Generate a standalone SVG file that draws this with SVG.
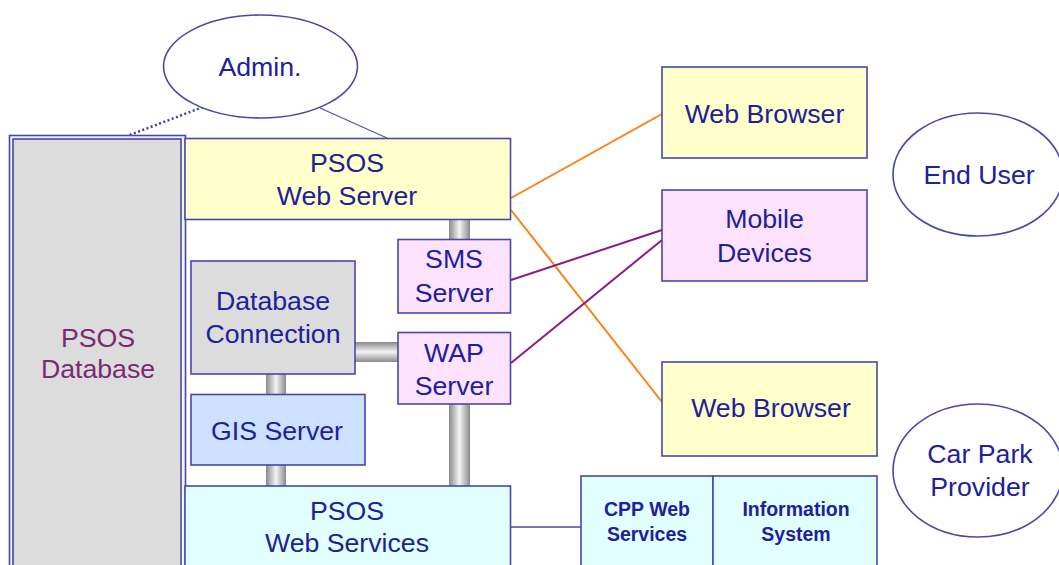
<svg xmlns="http://www.w3.org/2000/svg" width="1059" height="565" viewBox="0 0 1059 565">
<defs>
<linearGradient id="gv" x1="0" y1="0" x2="1" y2="0">
<stop offset="0" stop-color="#8a8a8a"/><stop offset="0.5" stop-color="#f4f4f4"/><stop offset="1" stop-color="#8a8a8a"/>
</linearGradient>
<linearGradient id="gh" x1="0" y1="0" x2="0" y2="1">
<stop offset="0" stop-color="#8a8a8a"/><stop offset="0.5" stop-color="#f4f4f4"/><stop offset="1" stop-color="#8a8a8a"/>
</linearGradient>
<style>
.b{stroke:#4848aa;stroke-width:1.6}
.t{font-family:"Liberation Sans",Arial,sans-serif;font-size:26.7px;fill:#20209a;text-anchor:middle}
.s{font-family:"Liberation Sans",Arial,sans-serif;font-size:19.5px;font-weight:bold;fill:#20209a;text-anchor:middle}
.y{fill:#ffffcc}.p{fill:#fde2fd}.g{fill:#dcdcdc}.lb{fill:#cce0ff}.c{fill:#e2ffff}
.or{stroke:#ff7f14;stroke-width:2;fill:none}
.pu{stroke:#8a1a8a;stroke-width:2;fill:none}
</style>
</defs>
<rect width="1059" height="565" fill="#ffffff"/>
<g id="connectors">
<line x1="203" y1="107" x2="127" y2="136" stroke="#4040a0" stroke-width="2.5" stroke-dasharray="2 2.5"/>
<line x1="320" y1="108" x2="387" y2="138" stroke="#5050a8" stroke-width="1.2"/>
<line class="or" x1="511" y1="198" x2="662" y2="114"/>
<line class="or" x1="511" y1="210" x2="662" y2="402"/>
<line class="pu" x1="511" y1="280" x2="662" y2="230"/>
<line class="pu" x1="511" y1="363" x2="662" y2="240"/>
<line x1="510" y1="527" x2="581" y2="527" stroke="#4848aa" stroke-width="1.6"/>
<rect x="449" y="219" width="21" height="21" fill="url(#gv)"/>
<rect x="355" y="342" width="43" height="20" fill="url(#gh)"/>
<rect x="266" y="374" width="20" height="20" fill="url(#gv)"/>
<rect x="266" y="465" width="20" height="21" fill="url(#gv)"/>
<rect x="449" y="404" width="21" height="82" fill="url(#gv)"/>
</g>
<g id="admin">
<ellipse cx="260.5" cy="66.5" rx="97" ry="51.5" fill="#ffffff" class="b"/>
<text class="t" x="260" y="76">Admin.</text>
</g>
<g id="database">
<rect x="9.5" y="135.5" width="176" height="440" fill="#f4f4ff" class="b"/>
<rect x="13" y="139" width="168" height="440" class="g b"/>
<text class="t" x="98" y="347" style="fill:#7a2a72">PSOS</text>
<text class="t" x="98" y="378" style="fill:#7a2a72">Database</text>
</g>
<g id="webserver">
<rect x="185" y="138.5" width="325.5" height="81" class="y b"/>
<text class="t" x="347" y="172">PSOS</text>
<text class="t" x="347" y="205">Web Server</text>
</g>
<g id="sms">
<rect x="398" y="239.5" width="112.5" height="73.5" class="p b"/>
<text class="t" x="454" y="268">SMS</text>
<text class="t" x="454" y="302">Server</text>
</g>
<g id="dbconn">
<rect x="191" y="261" width="164" height="113" class="g b"/>
<text class="t" x="273" y="310">Database</text>
<text class="t" x="273" y="343">Connection</text>
</g>
<g id="wap">
<rect x="398" y="332.5" width="112.5" height="71.5" class="p b"/>
<text class="t" x="454" y="362">WAP</text>
<text class="t" x="454" y="395">Server</text>
</g>
<g id="gis">
<rect x="191" y="394.5" width="174" height="70.5" class="lb b"/>
<text class="t" x="277" y="440">GIS Server</text>
</g>
<g id="webservices">
<rect x="185" y="486" width="325.5" height="90" class="c b"/>
<text class="t" x="347" y="520">PSOS</text>
<text class="t" x="347" y="552">Web Services</text>
</g>
<g id="browser1">
<rect x="662" y="67" width="205" height="91" class="y b"/>
<text class="t" x="764.5" y="123">Web Browser</text>
</g>
<g id="mobile">
<rect x="662" y="190" width="205" height="91" class="p b"/>
<text class="t" x="764.5" y="228">Mobile</text>
<text class="t" x="764.5" y="262">Devices</text>
</g>
<g id="enduser">
<ellipse cx="978" cy="174.5" rx="85" ry="61.5" fill="#ffffff" class="b"/>
<text class="t" x="979" y="184">End User</text>
</g>
<g id="browser2">
<rect x="662" y="362" width="215" height="94" class="y b"/>
<text class="t" x="771" y="417">Web Browser</text>
</g>
<g id="carpark">
<ellipse cx="978" cy="470.5" rx="85" ry="66.5" fill="#ffffff" class="b"/>
<text class="t" x="980" y="463">Car Park</text>
<text class="t" x="980" y="496">Provider</text>
</g>
<g id="cpp">
<rect x="581" y="476" width="132" height="100" class="c b"/>
<text class="s" x="647" y="516">CPP Web</text>
<text class="s" x="647" y="541">Services</text>
</g>
<g id="infosys">
<rect x="713" y="476" width="164" height="100" class="c b"/>
<text class="s" x="796" y="516">Information</text>
<text class="s" x="796" y="541">System</text>
</g>
</svg>
